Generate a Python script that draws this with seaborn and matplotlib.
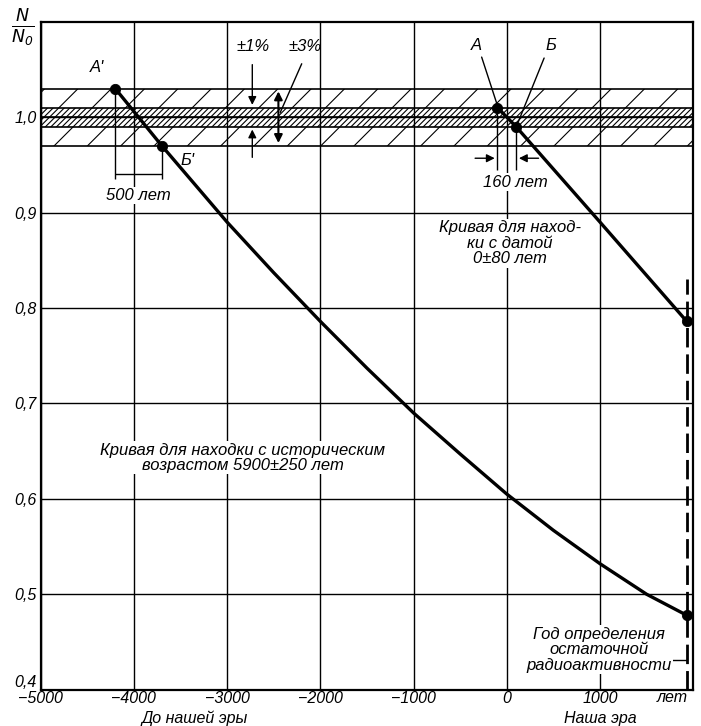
import matplotlib
matplotlib.use("Agg")
import matplotlib.pyplot as plt
import matplotlib.transforms as mtransforms
import seaborn as sns
import pandas as pd

# curve for the find with historical age 5900 +- 250 years
old_years = [-4200, -3950, -3700, -3000, -2500, -2000, -1500, -1000, -500, 0, 500, 1000, 1500, 1930]
old_ratio = [1.03, 1.00, 0.97, 0.89, 0.837, 0.786, 0.737, 0.69, 0.647, 0.605, 0.567, 0.532, 0.50, 0.478]

# curve for the find dated 0 +- 80 years
new_years = [-100, 100, 1000, 1930]
new_ratio = [1.01, 0.99, 0.89, 0.786]

# marked points
pts_years = [-4200, -3700, -100, 100, 1930, 1930]
pts_ratio = [1.03, 0.97, 1.01, 0.99, 0.786, 0.478]

measure_year = 1930
x_ticks = [-5000, -4000, -3000, -2000, -1000, 0, 1000]
x_labels = ["\u22125000", "\u22124000", "\u22123000", "\u22122000", "\u22121000", "0", "1000"]
y_ticks = [0.4, 0.5, 0.6, 0.7, 0.8, 0.9, 1.0]
y_labels = ["0,4", "0,5", "0,6", "0,7", "0,8", "0,9", "1,0"]
band_lines = [0.97, 0.99, 1.0, 1.01, 1.03]

sns.set_theme(style="white")
plt.rcParams["font.family"] = ["Liberation Sans", "DejaVu Sans"]
plt.rcParams["font.style"] = "italic"
plt.rcParams["text.color"] = "black"
plt.rcParams["hatch.linewidth"] = 0.8
plt.rcParams["hatch.color"] = "black"

fig = plt.figure(figsize=(7.01, 7.26), dpi=100)
ax = fig.add_axes([0.058, 0.05, 0.931, 0.92])
ax.set_xlim(-5000, 2000)
ax.set_ylim(0.4, 1.1)

for s in ax.spines.values():
    s.set_color("black")
    s.set_linewidth(1.6)

fs = 12
tfs = 11.5
ax.set_xticks(x_ticks)
ax.set_xticklabels(x_labels)
ax.set_yticks(y_ticks)
ax.set_yticklabels(y_labels)
ax.tick_params(length=0, labelsize=tfs, colors="black")
ax.tick_params(axis="x", pad=1)
ax.tick_params(axis="y", pad=3)
ax.grid(True, color="black", linewidth=1.0)
ax.set_axisbelow(True)
ax.get_yticklabels()[0].set_va("bottom")

# tolerance band: sparse hatch for +-3 %, dense hatch for +-1 %
ax.axhspan(1.01, 1.03, facecolor="none", edgecolor="black", hatch="/", linewidth=0)
ax.axhspan(0.97, 0.99, facecolor="none", edgecolor="black", hatch="/", linewidth=0)
ax.axhspan(1.0, 1.01, facecolor="none", edgecolor="black", hatch="//////", linewidth=0)
ax.axhspan(0.99, 1.0, facecolor="none", edgecolor="black", hatch="//////", linewidth=0)
for y in band_lines:
    ax.axhline(y, color="black", linewidth=1.2)

old_df = pd.DataFrame({"year": old_years, "ratio": old_ratio})
new_df = pd.DataFrame({"year": new_years, "ratio": new_ratio})
sns.lineplot(data=old_df, x="year", y="ratio", ax=ax, color="black", linewidth=2.4, sort=False)
sns.lineplot(data=new_df, x="year", y="ratio", ax=ax, color="black", linewidth=2.4, sort=False)
sns.scatterplot(x=pts_years, y=pts_ratio, ax=ax, color="black", s=55, zorder=5, edgecolor="black")
ax.set_xlabel("")
ax.set_ylabel("")

# dashed line: year of measurement
ax.vlines(measure_year, 0.4, 0.83, colors="black", linewidth=2, linestyles=(0, (7, 2.5)))
ax.hlines(0.431, 1720, measure_year, colors="black", linewidth=1)

white = dict(facecolor="white", edgecolor="none", pad=1)

# 500 years dimension
ax.vlines([-4200, -3700], [1.03, 0.97], 0.935, colors="black", linewidth=1)
ax.hlines(0.94, -4200, -3700, colors="black", linewidth=1)
ax.text(-3950, 0.918, "500 лет", ha="center", va="center", fontsize=fs, bbox=white)
ax.text(-4400, 1.052, "A'", ha="center", va="center", fontsize=fs)
ax.text(-3420, 0.955, "Б'", ha="center", va="center", fontsize=fs)

# +-1 % and +-3 %
ax.text(-2720, 1.074, "±1%", ha="center", va="center", fontsize=fs)
ax.text(-2160, 1.074, "±3%", ha="center", va="center", fontsize=fs)
arrow = dict(arrowstyle="-|>", color="black", lw=1, mutation_scale=12)
ax.annotate("", xy=(-2730, 1.01), xytext=(-2730, 1.058), arrowprops=arrow)
ax.annotate("", xy=(-2730, 0.99), xytext=(-2730, 0.955), arrowprops=arrow)
ax.annotate("", xy=(-2450, 0.97), xytext=(-2450, 1.03),
            arrowprops=dict(arrowstyle="<|-|>", color="black", lw=1.5, mutation_scale=12))
ax.plot([-2200, -2430], [1.056, 1.005], color="black", linewidth=1)

# A, Б and the 160 years dimension
ax.text(-330, 1.075, "А", ha="center", va="center", fontsize=fs)
ax.text(470, 1.075, "Б", ha="center", va="center", fontsize=fs)
ax.plot([-270, -100], [1.063, 1.012], color="black", linewidth=1)
ax.plot([400, 110], [1.062, 0.992], color="black", linewidth=1)
ax.vlines([-100, 100], [1.01, 0.99], 0.945, colors="black", linewidth=1)
ax.annotate("", xy=(-100, 0.957), xytext=(-370, 0.957), arrowprops=arrow)
ax.annotate("", xy=(100, 0.957), xytext=(370, 0.957), arrowprops=arrow)
ax.text(90, 0.932, "160 лет", ha="center", va="center", fontsize=fs, bbox=white)

ax.text(30, 0.868, "Кривая для наход-\nки с датой\n0±80 лет", ha="center", va="center",
        fontsize=fs, linespacing=1.05, bbox=white)
ax.text(-2830, 0.643, "Кривая для находки с историческим\nвозрастом 5900±250 лет",
        ha="center", va="center", fontsize=fs, linespacing=1.05, bbox=white)
ax.text(990, 0.442, "Год определения\nостаточной\nрадиоактивности", ha="center", va="center",
        fontsize=fs, linespacing=1.05, bbox=white)

# axis texts
tr = mtransforms.blended_transform_factory(ax.transData, fig.transFigure)
ax.text(1780, 0.05, "лет", transform=tr, ha="center", va="top", fontsize=tfs)
ax.text(-3350, 0.0, "До нашей эры", transform=tr, ha="center", va="bottom", fontsize=tfs)
ax.text(1000, 0.0, "Наша эра", transform=tr, ha="center", va="bottom", fontsize=tfs)
fig.text(0.033, 0.962, r"$\frac{N}{N_0}$", ha="center", va="center", fontsize=18)

fig.savefig("out.png", dpi=100)
